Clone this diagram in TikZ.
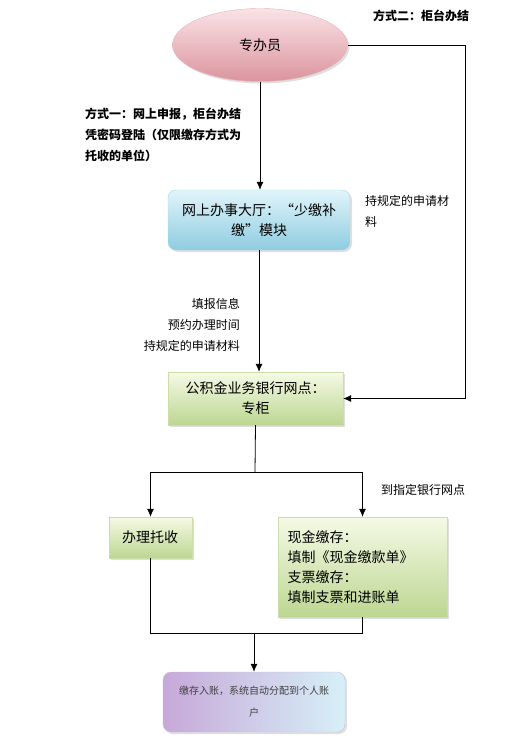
\documentclass[tikz,border=0pt]{standalone}
\usepackage{fontspec}
\setmainfont{Noto Sans CJK SC}
\usepackage{tikz}
\usetikzlibrary{shapes.geometric,shadows,arrows.meta}

\definecolor{pinkT}{rgb}{0.98,0.89,0.90}
\definecolor{pinkB}{rgb}{0.86,0.58,0.62}
\definecolor{blueT}{rgb}{0.88,0.96,0.98}
\definecolor{blueB}{rgb}{0.56,0.80,0.88}
\definecolor{greenT}{rgb}{0.96,0.98,0.90}
\definecolor{greenB}{rgb}{0.74,0.84,0.57}
\definecolor{lilaL}{rgb}{0.78,0.66,0.85}
\definecolor{lilaR}{rgb}{0.84,0.94,0.97}

\begin{document}
\begin{tikzpicture}[x=1pt,y=-1pt,
  shd/.style={drop shadow={opacity=0.25,shadow xshift=2pt,shadow yshift=-2pt}},
  ell/.style={ellipse,shd,draw=pinkB!70,top color=pinkT,bottom color=pinkB,minimum width=175pt,minimum height=73pt,font=\fontsize{14}{20}\selectfont},
  bluebox/.style={rounded corners=8pt,shd,draw=blueB!80,top color=blueT,bottom color=blueB,minimum width=182pt,minimum height=60pt,align=center,font=\fontsize{14}{20}\selectfont},
  greenbox/.style={shd,draw=greenB!80,top color=greenT,bottom color=greenB,align=center,font=\fontsize{14}{20}\selectfont},
  lilabox/.style={rounded corners=8pt,shd,draw=lilaL!80,left color=lilaL,right color=lilaR,minimum width=182pt,minimum height=60pt,align=center,font=\fontsize{10}{22}\selectfont,text=black!75},
  lbl/.style={inner sep=0pt,font=\fontsize{12}{21}\selectfont},
  line/.style={line width=0.8pt},
  arr/.style={line,-{Latex[length=8pt,width=7pt]}}]
\useasboundingbox (0,0) rectangle (526,742);

\node (zb) at (260,45) [ell]{专办员};
\node (wb) at (259,220) [bluebox]{网上办事大厅：“少缴补\\缴”模块};
\node (gj) at (255.5,398.5) [greenbox,minimum width=175pt,minimum height=53pt]{公积金业务银行网点：\\专柜};
\node (tuo) at (150.5,537.5) [greenbox,minimum width=83pt,minimum height=41pt,text width=57pt,align=left]{办理托收};
\node (xj) at (362.5,567) [greenbox,minimum width=169pt,minimum height=100pt,text width=150pt,align=left]{现金缴存：\\填制《现金缴款单》\\支票缴存：\\填制支票和进账单};
\node (zd) at (254,702) [lilabox]{缴存入账，系统自动分配到个人账\\户};

\node (fs2) at (421,16) [lbl,font=\fontsize{12}{21}\selectfont\bfseries]{方式二：柜台办结};
\node (fs1) at (85,108) [lbl,anchor=north west,align=left,font=\fontsize{12}{21}\selectfont\bfseries]{方式一：网上申报，柜台办结\\凭密码登陆（仅限缴存方式为\\托收的单位）};
\node (cl1) at (365,211.5) [lbl,anchor=west,align=left]{持规定的申请材\\料};
\node (tb) at (240,325) [lbl,anchor=east,align=right]{填报信息\\预约办理时间\\持规定的申请材料};
\node (dz) at (423,490) [lbl]{到指定银行网点};

\coordinate (rt) at (465,45);
\coordinate (fen) at (255,472);
\coordinate (he) at (254,633);

\draw[arr] (zb.south) -- (zb.south |- wb.north);
\draw[arr] (zb.east) -- (rt) |- (gj.east);
\draw[arr] (wb.south) -- (wb.south |- gj.north);
\draw[line] (gj.south) -- (fen);
\draw[arr] (fen) -| (tuo.north);
\draw[arr] (fen) -| (xj.north);
\draw[line] (tuo.south) |- (he);
\draw[line] (xj.south) |- (he);
\draw[arr] (he) -- (zd.north);
\end{tikzpicture}
\end{document}
